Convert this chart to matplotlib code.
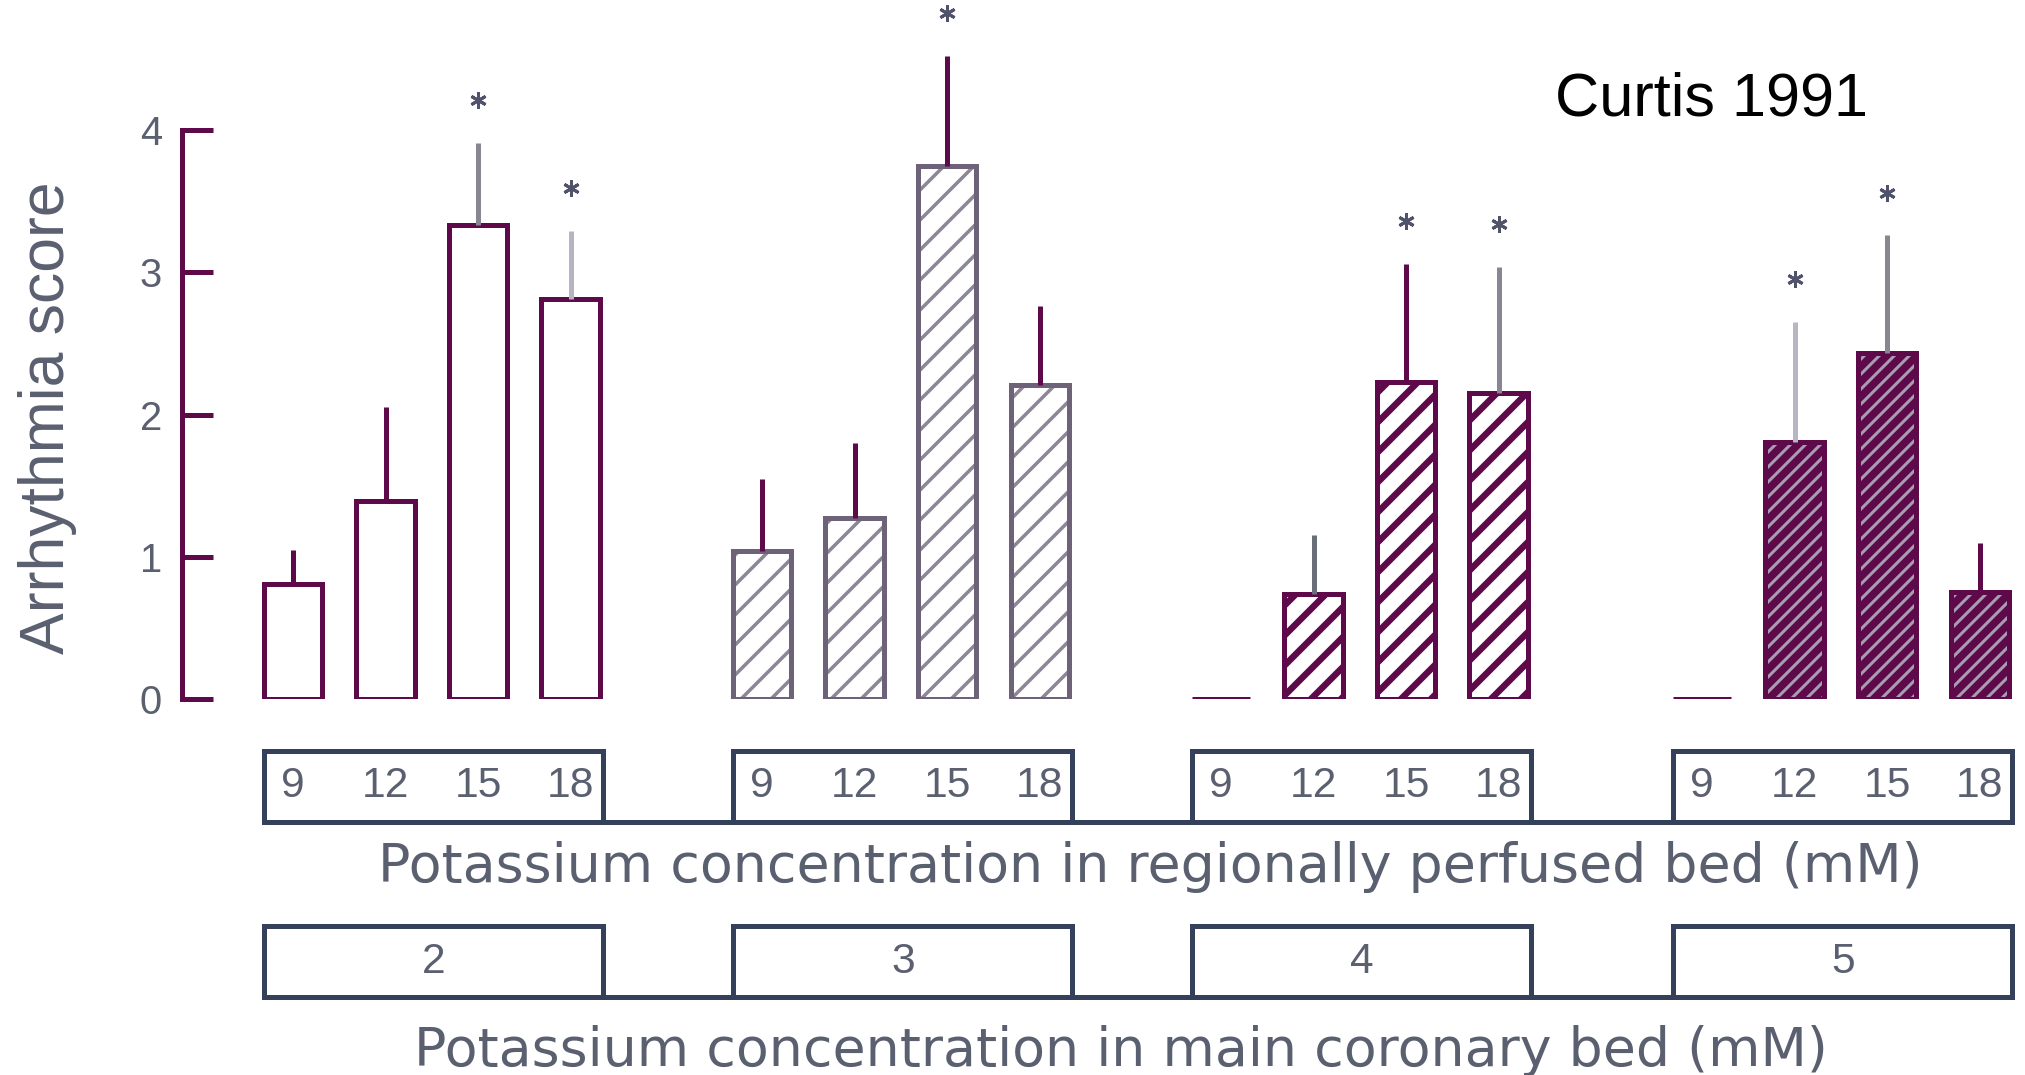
import numpy as np
import matplotlib.pyplot as plt
from matplotlib import transforms
from matplotlib.patches import Rectangle
from matplotlib.lines import Line2D

# values (arrhythmia score, mean and upper SEM)
regional_k = ['9', '12', '15', '18']
main_k = ['2', '3', '4', '5']

score_k2 = [0.81, 1.39, 3.33, 2.81]
score_k3 = [1.04, 1.27, 3.75, 2.21]
score_k4 = [0.0, 0.74, 2.23, 2.15]
score_k5 = [0.0, 1.81, 2.43, 0.75]

sem_k2 = [0.24, 0.66, 0.58, 0.48]
sem_k3 = [0.51, 0.53, 0.77, 0.55]
sem_k4 = [0.0, 0.41, 0.83, 0.89]
sem_k5 = [0.0, 0.84, 0.83, 0.35]

signif_k2 = [0, 0, 1, 1]
signif_k3 = [0, 0, 1, 0]
signif_k4 = [0, 0, 1, 1]
signif_k5 = [0, 1, 1, 0]

scores = [score_k2, score_k3, score_k4, score_k5]
sems = [sem_k2, sem_k3, sem_k4, sem_k5]
signif = [signif_k2, signif_k3, signif_k4, signif_k5]

# layout / style
W, H, DPI = 2025, 1075, 180
purple = '#5e0a4a'
txt = '#5a6070'
boxc = '#35405a'
group_off = [0.0, 5.07, 10.03, 15.23]
bar_w = 0.63

styles = [
    dict(face='white', edge=purple, hatch=None),
    dict(face='white', edge='#6e6278', hatch='//', hcolor='#8c8696', hlw=1.4),
    dict(face='white', edge=purple, hatch='//', hcolor=purple, hlw=2.6),
    dict(face=purple, edge=purple, hatch='////', hcolor='#a89db2', hlw=1.2),
]
err_colors = [
    [purple, purple, '#8a8592', '#b8b3c0'],
    [purple, purple, purple, purple],
    [purple, '#6a6e78', purple, '#8a8592'],
    [purple, '#bab5c2', '#8a8592', purple],
]

plt.rcParams['font.family'] = ['Liberation Sans', 'DejaVu Sans']

fig = plt.figure(figsize=(W / DPI, H / DPI), dpi=DPI)
fig.patch.set_facecolor('white')
ax = fig.add_axes([182 / W, (H - 699) / H, 1 - 182 / W, 697 / H])
ax.set_xlim(-1.2, 18.72)
ax.set_ylim(0, 4.9)


def fy(ypx):
    return 1 - ypx / H


for g in range(4):
    st = styles[g]
    x = group_off[g] + np.arange(4)
    vals = np.array(scores[g])
    if st['hatch']:
        hb = ax.bar(x, vals, bar_w, color=st['face'], edgecolor=st['hcolor'],
                    hatch=st['hatch'], linewidth=0)
        for p in hb:
            if hasattr(p, 'set_hatch_linewidth'):
                p.set_hatch_linewidth(st['hlw'])
        ax.bar(x, vals, bar_w, facecolor='none', edgecolor=st['edge'], linewidth=2)
    else:
        ax.bar(x, vals, bar_w, color=st['face'], edgecolor=st['edge'], linewidth=2)
    ax.vlines(x, vals, vals + np.array(sems[g]), colors=err_colors[g], linewidth=2)
    sig = np.array(signif[g]) == 1
    ax.plot(x[sig], (vals + np.array(sems[g]))[sig] + 0.3, ls='none',
            marker=(6, 2, 0), ms=6.5, mew=1.2, color='#50536a')

for s in ['top', 'right', 'bottom']:
    ax.spines[s].set_visible(False)
ax.spines['left'].set_bounds(0, 4)
ax.spines['left'].set_color(purple)
ax.spines['left'].set_linewidth(2)
ax.set_xticks([])
ax.set_yticks(range(5))
ax.tick_params(axis='y', direction='in', length=12.4, width=2, color=purple,
               labelsize=16, labelcolor=txt, pad=8)

# concentration boxes under the bars
trans = transforms.blended_transform_factory(ax.transData, fig.transFigure)
rows = [(751, 822), (926, 997)]
for r, (top, bot) in enumerate(rows):
    for g in range(4):
        fig.add_artist(Rectangle((group_off[g] - 0.31, fy(bot)), 3.66, fy(top) - fy(bot),
                                 transform=trans, fill=False, lw=2, ec=boxc))
        if r == 0:
            for i, lab in enumerate(regional_k):
                ax.text(group_off[g] + i, fy(786), lab, transform=trans, ha='center',
                        va='center', size=17, color=txt)
        else:
            ax.text(group_off[g] + 1.52, fy(962), main_k[g], transform=trans,
                    ha='center', va='center', size=17, color=txt)
    fig.add_artist(Line2D([group_off[0] - 0.31, group_off[-1] + 3.35], [fy(bot)] * 2,
                          transform=trans, lw=2, color=boxc))

fig.text(1150 / W, fy(882), 'Potassium concentration in regionally perfused bed (mM)',
         ha='center', va='baseline', size=21.5, color=txt, family='DejaVu Sans')
fig.text(1121 / W, fy(1066), 'Potassium concentration in main coronary bed (mM)',
         ha='center', va='baseline', size=21.5, color=txt, family='DejaVu Sans')
fig.text(48 / W, fy(418), 'Arrhythmia score', rotation=90, ha='center', va='center',
         size=25, color=txt)
fig.text(1555 / W, fy(115), 'Curtis 1991', ha='left', va='baseline', size=24.5, color='black')

fig.savefig('out.png', dpi=DPI, facecolor='white')
